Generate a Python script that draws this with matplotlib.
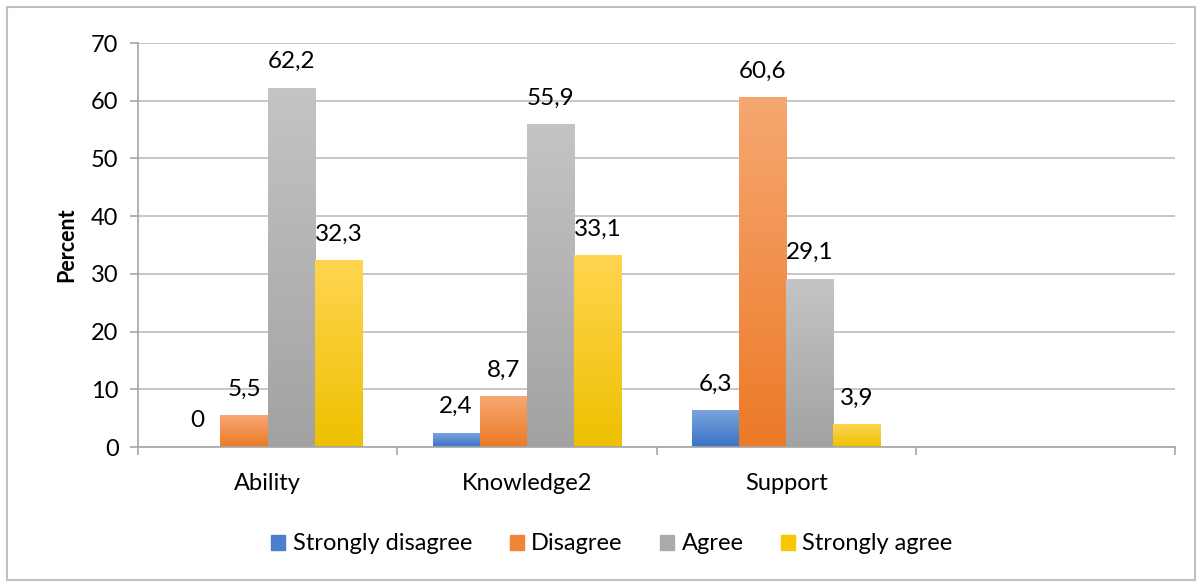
import numpy as np
import matplotlib.pyplot as plt
from matplotlib.patches import Rectangle
from matplotlib.colors import LinearSegmentedColormap

plt.rcParams['font.family'] = ['Lato', 'DejaVu Sans']

categories = ['Ability', 'Knowledge2', 'Support']
series = ['Strongly disagree', 'Disagree', 'Agree', 'Strongly agree']
strongly_disagree = [0, 2.4, 6.3]
disagree = [5.5, 8.7, 60.6]
agree = [62.2, 55.9, 29.1]
strongly_agree = [32.3, 33.1, 3.9]
values = [strongly_disagree, disagree, agree, strongly_agree]

# (top, bottom) colours of each bar's vertical gradient
gradients = [('#7aa3dc', '#3b73c6'),
             ('#f6a771', '#ec7a27'),
             ('#c4c4c4', '#a2a2a2'),
             ('#ffd550', '#eec000')]
solid = ['#4a7fcc', '#f08537', '#aaaaaa', '#f7c700']

fig = plt.figure(figsize=(12.02, 5.87), dpi=100)
ax = fig.add_axes([138 / 1202, 140 / 587, 1037 / 1202, 404 / 587])

n_slots = 4
x = np.arange(len(categories))
width = 0.182
offsets = (np.arange(len(series)) - 1.5) * width

for vals, off, (top, bot), name, col in zip(values, offsets, gradients, series, solid):
    bars = ax.bar(x + off, vals, width, color='none', edgecolor='none', label=name)
    cmap = LinearSegmentedColormap.from_list(name, [bot, top])
    grad = np.linspace(0, 1, 256).reshape(-1, 1)
    for b, v in zip(bars, vals):
        x0, y0 = b.get_x(), b.get_y()
        if v > 0:
            ax.imshow(grad, cmap=cmap, origin='lower', aspect='auto', zorder=2,
                      extent=(x0, x0 + b.get_width(), y0, y0 + b.get_height()))
        ax.annotate(f'{v:g}'.replace('.', ','), (x0 + b.get_width() / 2, v),
                    xytext=(0, 19), textcoords='offset points',
                    ha='center', va='center', fontsize=17.5, color='black')

ax.set_xlim(-0.5, n_slots - 0.5)
ax.set_ylim(0, 70)
ax.set_yticks(np.arange(0, 71, 10))
ax.yaxis.grid(True, color='#bdbdbd', linewidth=1.2)
ax.set_axisbelow(True)

ax.set_xticks(x)
ax.set_xticklabels(categories)
ax.set_xticks(np.arange(n_slots + 1) - 0.5, minor=True)
ax.tick_params(axis='x', which='major', length=0, pad=19, labelsize=17)
ax.tick_params(axis='x', which='minor', length=6, color='#a6a6a6', width=1.2, direction='out')
ax.tick_params(axis='y', length=6, color='#a6a6a6', width=1.2, pad=8, labelsize=17)

for side in ['top', 'right']:
    ax.spines[side].set_visible(False)
for side in ['left', 'bottom']:
    ax.spines[side].set_color('#a6a6a6')
    ax.spines[side].set_linewidth(1.2)

ax.set_ylabel('Percent', fontsize=15.5, fontweight='bold', labelpad=10)

handles = [Rectangle((0, 0), 1, 1, color=c) for c in solid]
fig.legend(handles, series, loc='center', bbox_to_anchor=(612 / 1202, 1 - 544 / 587),
           ncol=4, frameon=False, fontsize=17, handlelength=0.6, handleheight=0.6,
           handletextpad=0.3, columnspacing=1.6)

fig.patches.append(Rectangle((7 / 1202, 7 / 587), 1188 / 1202, 573 / 587,
                             transform=fig.transFigure, fill=False,
                             edgecolor='#c0c0c0', linewidth=1.5))

fig.savefig('out.png', dpi=100)
